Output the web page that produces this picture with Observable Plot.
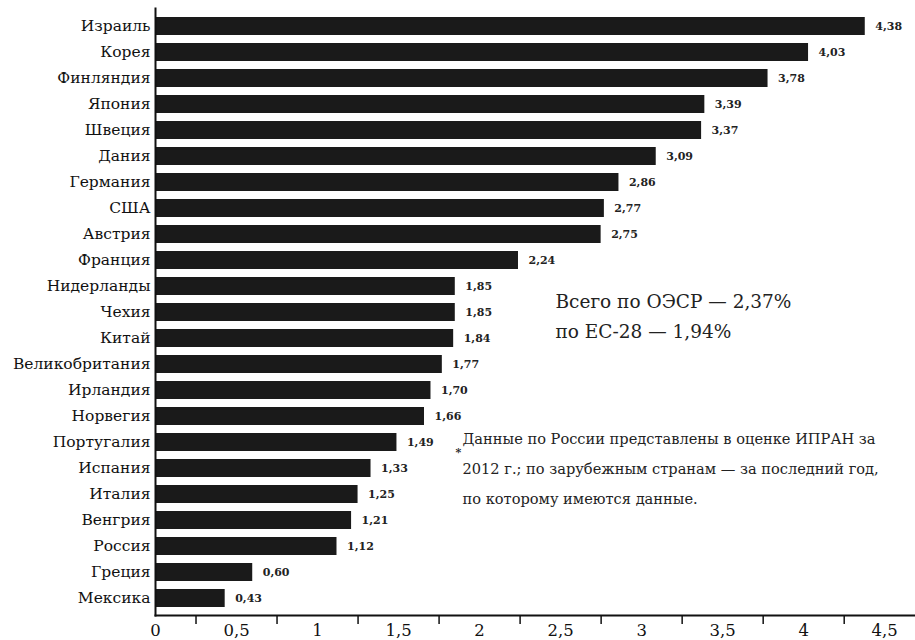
<!DOCTYPE html>
<html>
<head>
<meta charset="utf-8">
<script src="https://cdn.jsdelivr.net/npm/d3@7"></script>
<script src="https://cdn.jsdelivr.net/npm/@observablehq/plot@0.6"></script>
<style>
  html, body { margin: 0; padding: 0; background: #fff; }
  #chart svg { display: block; }
</style>
</head>
<body>
<div id="chart"></div>
<script>
const countries = ["Израиль","Корея","Финляндия","Япония","Швеция","Дания","Германия","США","Австрия","Франция","Нидерланды","Чехия","Китай","Великобритания","Ирландия","Норвегия","Португалия","Испания","Италия","Венгрия","Россия","Греция","Мексика"];
const values = [4.38,4.03,3.78,3.39,3.37,3.09,2.86,2.77,2.75,2.24,1.85,1.85,1.84,1.77,1.70,1.66,1.49,1.33,1.25,1.21,1.12,0.60,0.43];
const tickLabels = [0,0.5,1,1.5,2,2.5,3,3.5,4,4.5];
const minorTicks = [0.25,0.75,1.25,1.75,2.25,2.75,3.25,3.75,4.25];
const summaryText = "Всего по ОЭСР — 2,37%\nпо ЕС-28 — 1,94%";
const footnoteText = "Данные по России представлены в оценке ИПРАН за\n2012 г.; по зарубежным странам — за последний год,\nпо которому имеются данные.";

const data = countries.map((c, i) => ({country: c, value: values[i]}));
const fmt = d => d.toFixed(2).replace(".", ",");
const fmtTick = d => String(d).replace(".", ",");
const serif = "'DejaVu Serif', 'Liberation Serif', serif";

const chart = Plot.plot({
  width: 915,
  height: 640,
  marginLeft: 155,
  marginRight: 0,
  marginTop: 8,
  marginBottom: 25,
  style: {fontFamily: serif, background: "#fff", color: "#111"},
  x: {domain: [0, 4.69], axis: null},
  y: {domain: countries, paddingInner: 0.32, paddingOuter: 0.115, axis: null},
  marks: [
    Plot.barX(data, {x: "value", y: "country", fill: "#1a1a1a"}),
    Plot.text(data, {x: "value", y: "country", text: d => fmt(d.value), dx: 10, textAnchor: "start", fontSize: 11, fontWeight: "bold", fill: "#222"}),
    Plot.axisY({anchor: "left", label: null, tickSize: 0, tickPadding: 5, fontSize: 15.5, fill: "#111"}),
    Plot.axisX({anchor: "bottom", label: null, ticks: tickLabels, tickSize: 0, tickPadding: 9, tickFormat: fmtTick, fontSize: 16.5, fill: "#111"}),
    Plot.axisX({anchor: "bottom", label: null, ticks: minorTicks, tickSize: 9, tickFormat: () => "", stroke: "#111", strokeWidth: 1.5}),
    Plot.frame({anchor: "bottom", stroke: "#111", strokeWidth: 2}),
    Plot.frame({anchor: "left", stroke: "#111", strokeWidth: 2}),
    Plot.text([summaryText], {frameAnchor: "top-left", dx: 400, dy: 305, text: d => d, textAnchor: "start", lineAnchor: "middle", lineHeight: 1.6, fontSize: 18.5, fill: "#222"}),
    Plot.text(["*"], {frameAnchor: "top-left", dx: 300, dy: 444, text: d => d, textAnchor: "start", lineAnchor: "middle", fontSize: 11, fontWeight: "bold", fill: "#222"}),
    Plot.text([footnoteText], {frameAnchor: "top-left", dx: 307, dy: 456, text: d => d, textAnchor: "start", lineAnchor: "middle", lineHeight: 2.05, fontSize: 14.6, fill: "#222"})
  ]
});
document.getElementById("chart").append(chart);
</script>
</body>
</html>
